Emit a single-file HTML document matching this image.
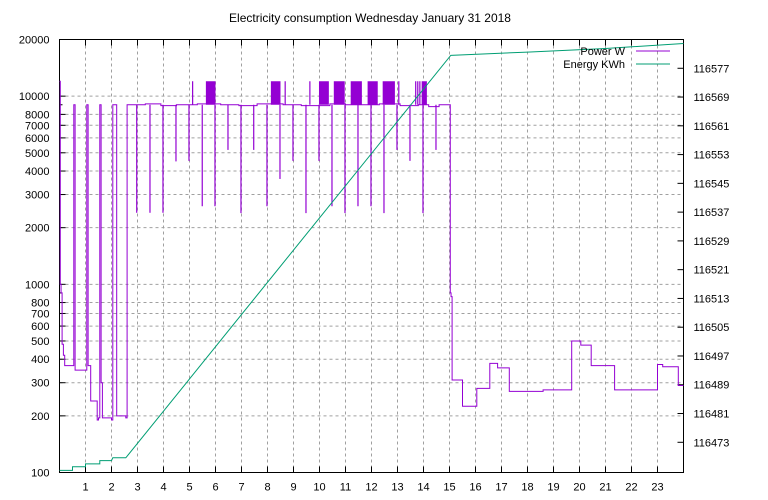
<!DOCTYPE html>
<html><head><meta charset="utf-8"><style>
body{margin:0;background:#fff}
svg{display:block;font-family:"Liberation Sans",sans-serif}
</style></head><body>
<svg id="c" width="768" height="500" viewBox="0 0 768 500">
<rect width="768" height="500" fill="#fff"/>
<text x="370" y="22" font-size="12" text-anchor="middle">Electricity consumption Wednesday January 31 2018</text>
<g id="grid"></g>
<g id="axes"></g>
<g id="series"></g>
<g>
<text x="625" y="55" font-size="11" text-anchor="end">Power W</text>
<line x1="636" y1="51" x2="670" y2="51" stroke="#9400d3" stroke-width="1"/>
<text x="625" y="68" font-size="11" text-anchor="end">Energy KWh</text>
<line x1="636" y1="64" x2="670" y2="64" stroke="#009e73" stroke-width="1"/>
</g>
</svg>
<script>
const xTicks=[1,2,3,4,5,6,7,8,9,10,11,12,13,14,15,16,17,18,19,20,21,22,23];
const yTicksLeft=[100,200,300,400,500,600,700,800,1000,2000,3000,4000,5000,6000,7000,8000,10000,20000];
const yMinorLeft=[900,9000];
const yTicksRight=[116473,116481,116489,116497,116505,116513,116521,116529,116537,116545,116553,116561,116569,116577];
// power step series (hour, watts)
const powerHours=[0,0.03,0.06,0.1,0.15,0.2,0.55,0.6,1.05,1.1,1.2,1.45,1.5,1.55,1.6,1.65,1.7,2.0,2.05,2.15,2.2,2.55,2.6,3.3,3.9,4.5,5.3,6.2,6.9,7.6,8.6,9.3,10.4,11.0,11.7,12.3,13.1,13.8,14.2,14.6,15.03,15.06,15.1,15.5,16.05,16.55,16.85,17.3,18.6,19.7,20.05,20.45,21.35,23.0,23.2,23.8,24];
const powerWatts=[12000,1000,900,480,420,370,9000,350,9000,370,240,190,195,9000,300,195,195,190,9000,9000,200,195,9000,9100,8900,9000,9100,9000,8900,9100,9000,8900,9100,9000,9000,9100,8900,9000,8800,9000,900,860,310,225,280,380,360,270,275,500,475,370,275,375,365,290,290];
const spikeHours=[2.97,3.48,3.98,4.48,4.98,5.49,5.98,6.48,6.98,7.47,7.98,8.48,8.98,9.48,9.98,10.48,10.98,11.48,11.98,12.48,12.98,13.48,13.98,14.48,5.12,8.68,9.63,13.05,13.7,13.78,13.86];
const spikeWatts=[2400,2400,2400,4500,4530,2600,2600,5180,2390,5180,2600,3630,4530,2390,4530,2600,2390,2600,2600,2390,5180,4530,2390,5180,12000,12000,12000,12000,12000,12000,12000];
const blockStart=[5.63,8.13,9.98,10.55,11.2,11.85,12.43,13.93];
const blockEnd=[6.0,8.5,10.36,10.97,11.63,12.24,12.9,14.13];
const blockLow=9000, blockHigh=12000;
// energy (hour, kWh)
const energyHours=[0,0.5,0.5,1.0,1.0,1.55,1.55,2.0,2.05,2.55,5,10,15.05,18,21,24];
const energyKwh=[116465.2,116465.2,116466.2,116466.2,116467.0,116467.0,116467.9,116467.9,116468.7,116468.7,116490.6,116535.4,116580.6,116581.5,116582.5,116583.9];

const L=59.5,R=683.5,T=39.5,B=472.5;
const xs=h=>L+h/24*(R-L);
const yl=v=>B-(Math.log10(v)-2)/Math.log10(200)*(B-T);
const yr=e=>B-(e-116464.6)/(116585-116464.6)*(B-T);
const NS="http://www.w3.org/2000/svg";
function mk(tag,attrs,parent){const e=document.createElementNS(NS,tag);for(const k in attrs)e.setAttribute(k,attrs[k]);parent.appendChild(e);return e;}
const grid=document.getElementById('grid'),axes=document.getElementById('axes'),ser=document.getElementById('series');
xTicks.forEach(h=>{
 const x=xs(h);
 const g=mk('line',{x1:x,x2:x,y1:T,y2:B,stroke:'#a0a0a0','stroke-dasharray':'3,3'},grid);
 
 mk('line',{x1:x,x2:x,y1:B,y2:B-6,stroke:'#000'},axes);
 mk('line',{x1:x,x2:x,y1:T,y2:T+6,stroke:'#000'},axes);
 const t=mk('text',{x:x,y:B+18,'font-size':11,'text-anchor':'middle'},axes);t.textContent=h;
 
});
yTicksLeft.forEach(v=>{
 const y=yl(v);
 if(v>100&&v<20000){const g=mk('line',{x1:L,x2:R,y1:y,y2:y,stroke:'#a0a0a0','stroke-dasharray':'3,3'},grid);
 }
 mk('line',{x1:L,x2:L+6,y1:y,y2:y,stroke:'#000'},axes);
 const t=mk('text',{x:L-10,y:y+4,'font-size':11,'text-anchor':'end'},axes);t.textContent=v;
 
});
yMinorLeft.forEach(v=>{const y=yl(v);mk('line',{x1:L,x2:L+3,y1:y,y2:y,stroke:'#000'},axes);});
yTicksRight.forEach(e=>{
 const y=yr(e);
 mk('line',{x1:R,x2:R-6,y1:y,y2:y,stroke:'#000'},axes);
 const t=mk('text',{x:R+10,y:y+4,'font-size':11},axes);t.textContent=e;
 
});
const fr=mk('rect',{x:L,y:T,width:R-L,height:B-T,fill:'none',stroke:'#000'},axes);

// power
let d='';
powerHours.forEach((h,i)=>{
 const x=xs(h),y=yl(powerWatts[i]);
 if(i===0)d+='M'+x+','+y;else d+='H'+x+'V'+y;
});
const pp=mk('path',{d:d,fill:'none',stroke:'#9400d3','stroke-width':1},ser);

blockStart.forEach((s,i)=>{
 const r=mk('rect',{x:xs(s),y:yl(blockHigh),width:xs(blockEnd[i])-xs(s),height:yl(blockLow)-yl(blockHigh),fill:'#9400d3'},ser);
 
});
spikeHours.forEach((h,i)=>{
 const x=xs(h);
 const l=mk('line',{x1:x,x2:x,y1:yl(9000),y2:yl(spikeWatts[i]),stroke:'#9400d3','stroke-width':1.2},ser);
 
});
// energy
let de='';
energyHours.forEach((h,i)=>{de+=(i?'L':'M')+xs(h)+','+yr(energyKwh[i]);});
const pe=mk('path',{d:de,fill:'none',stroke:'#009e73','stroke-width':1},ser);

</script>
</body></html>
